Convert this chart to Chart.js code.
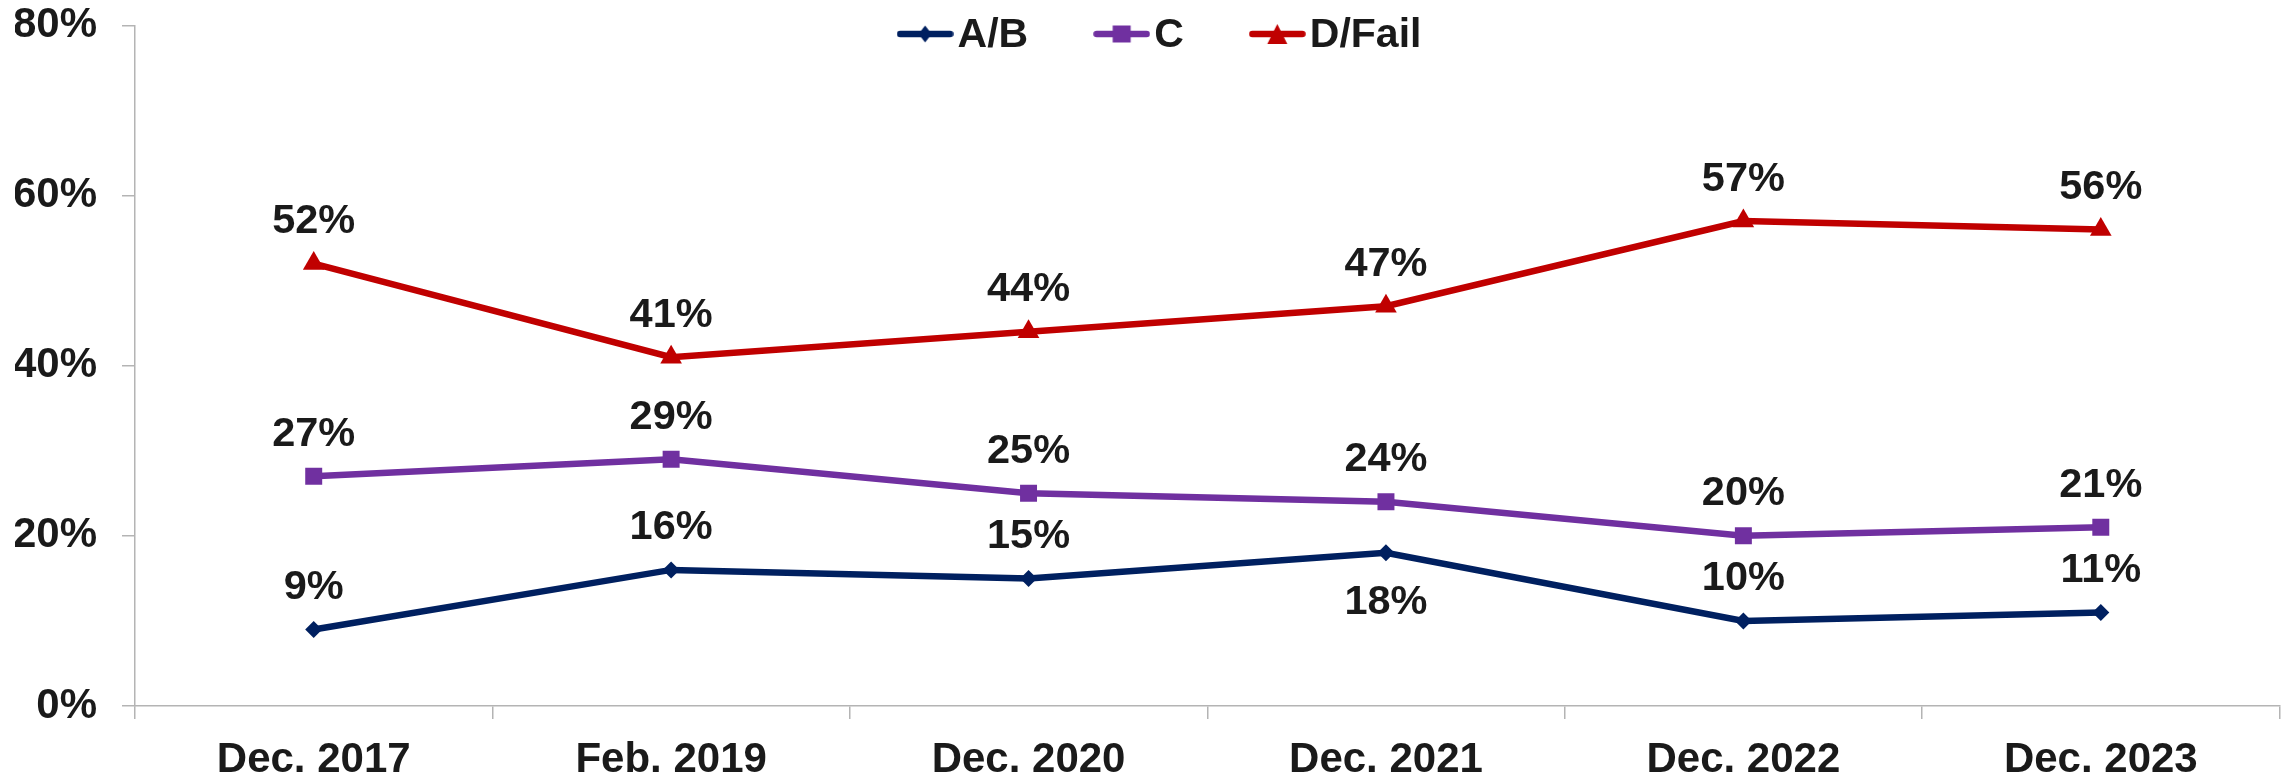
<!DOCTYPE html>
<html>
<head>
<meta charset="utf-8">
<script src="https://cdn.jsdelivr.net/npm/chart.js@4/dist/chart.umd.min.js"></script>
<style>
  body { margin: 0; background: #fff; }
  #wrap { width: 2292px; height: 777px; }
</style>
</head>
<body>
<div id="wrap"><canvas id="trendChart"></canvas></div>
<script>
const categories = ['Dec. 2017', 'Feb. 2019', 'Dec. 2020', 'Dec. 2021', 'Dec. 2022', 'Dec. 2023'];
const gradeAB = [9, 16, 15, 18, 10, 11];
const gradeC = [27, 29, 25, 24, 20, 21];
const gradeDFail = [52, 41, 44, 47, 57, 56];
const yTicks = [0, 20, 40, 60, 80];

const FONT = '"Liberation Sans", Arial, sans-serif';
const TEXT = '#1a1a1a';
const NAVY = '#002060';
const PURPLE = '#7030a0';
const RED = '#c00000';
const AXIS = '#b4b4b4';

// legend icon: line with marker in the middle
function legendIcon(color, style) {
  const c = document.createElement('canvas');
  c.width = 57; c.height = 24;
  const g = c.getContext('2d');
  g.strokeStyle = color; g.fillStyle = color;
  g.lineWidth = 6.5; g.lineCap = 'round';
  g.beginPath(); g.moveTo(3.5, 12); g.lineTo(53.5, 12); g.stroke();
  g.beginPath();
  if (style === 'diamond') {
    g.moveTo(28.5, 3.5); g.lineTo(35, 12); g.lineTo(28.5, 20.5); g.lineTo(22, 12);
  } else if (style === 'square') {
    g.rect(19.5, 3.5, 18, 17);
  } else {
    g.moveTo(28.5, 2); g.lineTo(38.5, 22); g.lineTo(18.5, 22);
  }
  g.closePath(); g.fill();
  return c;
}

const legendPlugin = {
  id: 'insideLegend',
  afterDraw(chart) {
    const ctx = chart.ctx;
    const items = chart.data.datasets.map(ds => ({
      text: ds.label,
      icon: legendIcon(ds.borderColor, ds.legendMarker)
    }));
    ctx.save();
    ctx.font = 'bold 41px ' + FONT;
    const iconW = 57, gap = 4, itemGap = 65;
    let total = 0;
    items.forEach((it, i) => {
      it.w = ctx.measureText(it.text).width;
      total += iconW + gap + it.w + (i < items.length - 1 ? itemGap : 0);
    });
    let x = 1159 - total / 2;
    const y = 34;
    ctx.textBaseline = 'middle';
    ctx.fillStyle = TEXT;
    items.forEach(it => {
      ctx.drawImage(it.icon, x, y - 12);
      x += iconW + gap;
      ctx.fillText(it.text, x, y + 2);
      x += it.w + itemGap;
    });
    ctx.restore();
  }
};

const valueLabels = {
  id: 'valueLabels',
  afterDatasetsDraw(chart) {
    const ctx = chart.ctx;
    ctx.save();
    ctx.font = 'bold 41.5px ' + FONT;
    ctx.fillStyle = TEXT;
    ctx.textAlign = 'center';
    ctx.textBaseline = 'middle';
    chart.data.datasets.forEach((ds, di) => {
      const meta = chart.getDatasetMeta(di);
      meta.data.forEach((pt, i) => {
        const below = ds.labelBelow && ds.labelBelow.includes(i);
        const dy = below ? 50 : -42;
        ctx.fillText(ds.data[i] + '%', pt.x, pt.y + dy);
      });
    });
    ctx.restore();
  }
};

const ctx = document.getElementById('trendChart').getContext('2d');
new Chart(ctx, {
  type: 'line',
  data: {
    labels: categories,
    datasets: [
      {
        label: 'A/B',
        data: gradeAB,
        borderColor: NAVY,
        backgroundColor: NAVY,
        pointStyle: 'rectRot',
        pointRadius: 8.5,
        legendMarker: 'diamond',
        labelBelow: [3]
      },
      {
        label: 'C',
        data: gradeC,
        borderColor: PURPLE,
        backgroundColor: PURPLE,
        pointStyle: 'rect',
        pointRadius: 12,
        legendMarker: 'square'
      },
      {
        label: 'D/Fail',
        data: gradeDFail,
        borderColor: RED,
        backgroundColor: RED,
        pointStyle: 'triangle',
        pointRadius: 12.5,
        legendMarker: 'triangle'
      }
    ]
  },
  options: {
    responsive: true,
    maintainAspectRatio: false,
    animation: false,
    elements: {
      line: { borderWidth: 6.5, tension: 0 },
      point: { borderWidth: 0 }
    },
    layout: { padding: { left: 15, right: 12, top: 0, bottom: 0 } },
    scales: {
      x: {
        offset: true,
        afterFit: (axis) => { axis.height = 71; },
        grid: {
          offset: true,
          drawOnChartArea: false,
          tickLength: 13,
          color: AXIS,
          lineWidth: 1.5
        },
        border: { color: AXIS, width: 1.5 },
        ticks: {
          color: TEXT,
          padding: 17,
          maxRotation: 0,
          font: { family: FONT, size: 42, weight: 'bold', lineHeight: 1.15 }
        }
      },
      y: {
        min: 0,
        max: 80,
        afterBuildTicks: (axis) => { axis.ticks = yTicks.map(v => ({ value: v })); },
        afterFit: (axis) => { axis.width = 120; },
        grid: {
          drawOnChartArea: false,
          tickLength: 13,
          color: AXIS,
          lineWidth: 1.5
        },
        border: { color: AXIS, width: 1.5 },
        ticks: {
          color: TEXT,
          padding: 25,
          callback: (v) => v + '%',
          // tiny line height so the top label does not push the plot area down
          font: { family: FONT, size: 42, weight: 'bold', lineHeight: 0.02 }
        }
      }
    },
    plugins: {
      legend: { display: false },
      tooltip: { enabled: false }
    }
  },
  plugins: [legendPlugin, valueLabels]
});
</script>
</body>
</html>
